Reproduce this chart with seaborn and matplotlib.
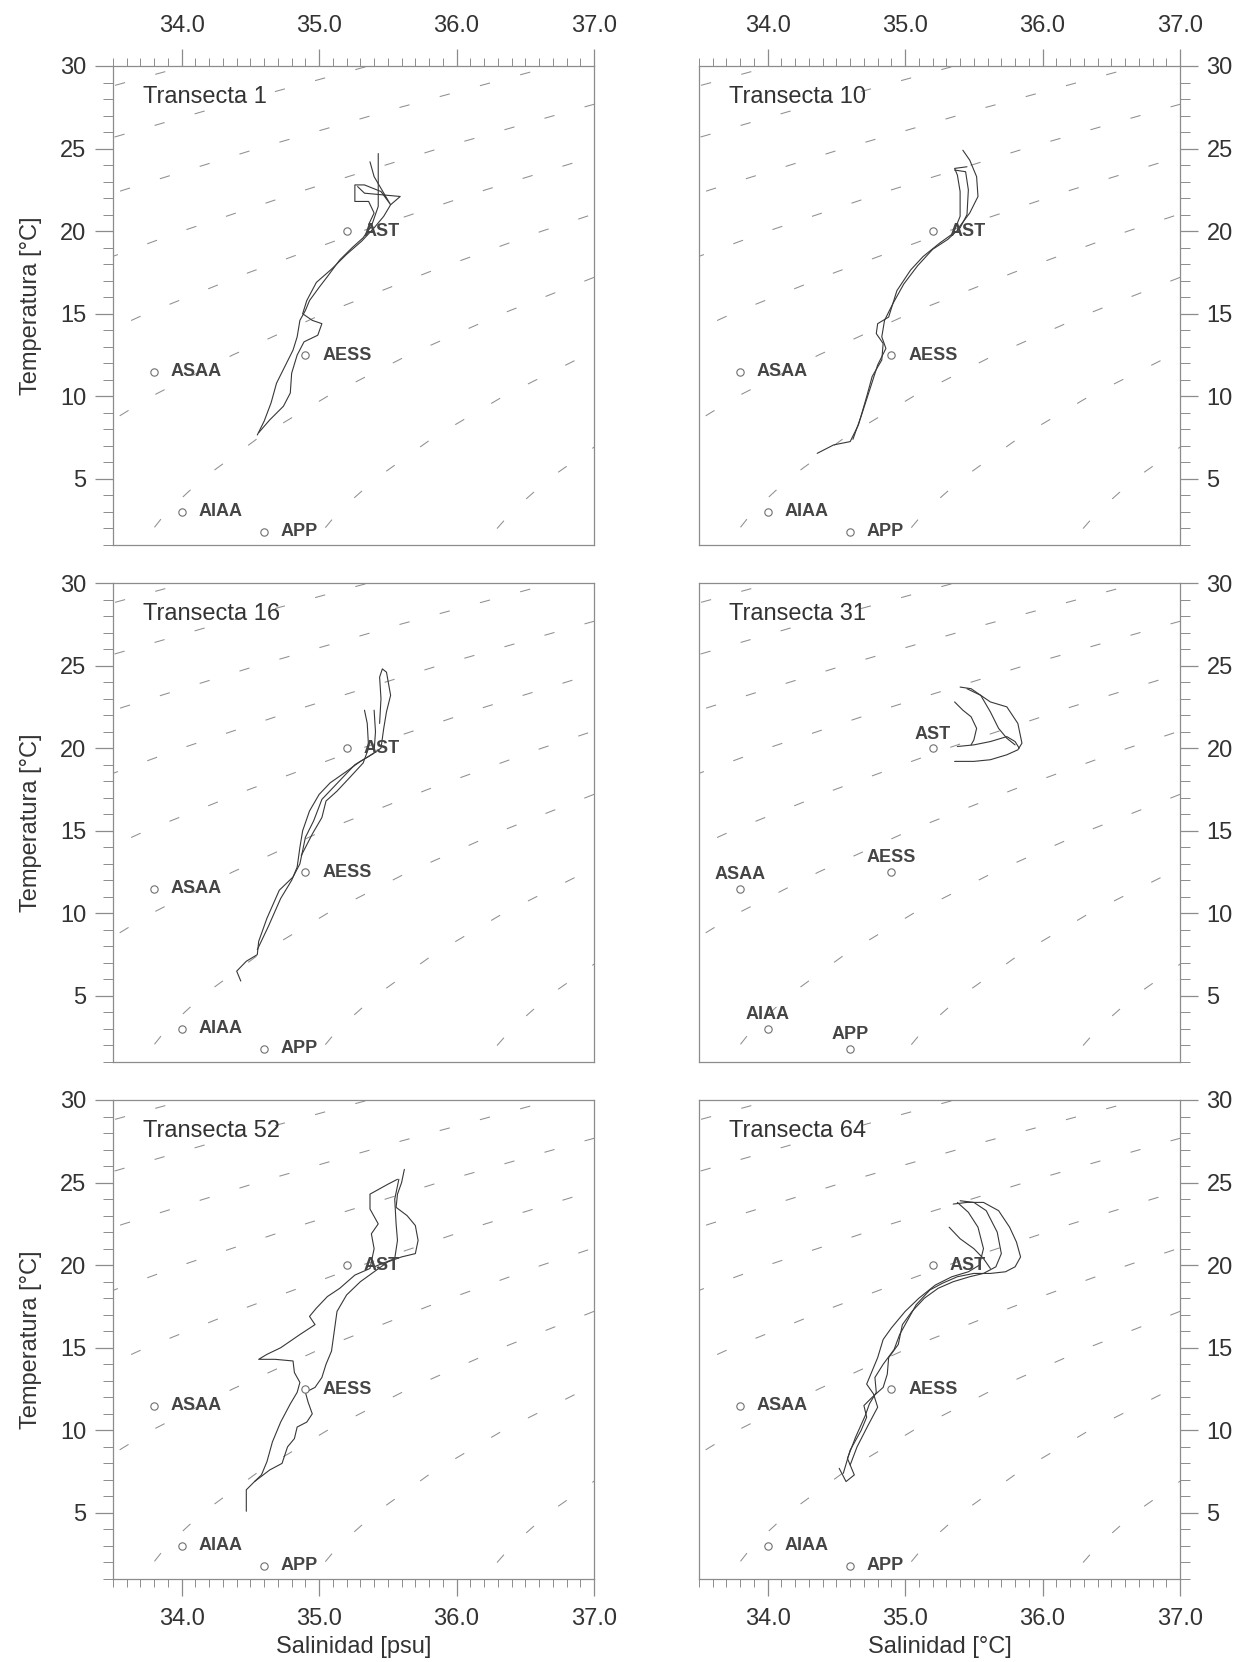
import matplotlib
matplotlib.use("Agg")
import matplotlib.pyplot as plt
import pandas as pd
import seaborn as sns
from matplotlib.ticker import FixedLocator, MultipleLocator, FormatStrFormatter

# ---------------- data ----------------
panel_titles = ["Transecta 1", "Transecta 10", "Transecta 16",
                "Transecta 31", "Transecta 52", "Transecta 64"]
sal_ticks = [34.0, 35.0, 36.0, 37.0]
temp_ticks = [5, 10, 15, 20, 25, 30]
x_labels = ["Salinidad [psu]", "Salinidad [°C]"]
y_label = "Temperatura [°C]"

# water masses
mass_names = ["AST", "AESS", "ASAA", "AIAA", "APP"]
mass_S = [35.2, 34.9, 33.8, 34.0, 34.6]
mass_T = [20.0, 12.5, 11.5, 3.0, 1.8]

# isopycnals (sigma-t), points
sigma_levels = [21, 22, 23, 24, 25, 26, 27, 28, 29]
iso_T = [
    [27.5, 30],
    [25, 27.5, 30],
    [20, 22.5, 25, 27.5, 30],
    [17.5, 20, 22.5, 25, 27.5, 30],
    [12.5, 15, 17.5, 20, 22.5, 25, 27.5],
    [7.5, 10, 12.5, 15, 17.5, 20, 22.5],
    [0, 1, 3, 5, 7.5, 10, 12.5, 15, 17.5, 20],
    [0, 1, 3, 5, 7.5, 10, 12.5, 15],
    [0, 1, 3, 5, 7.5],
]
iso_S = [
    [32.93, 34.03],
    [33.22, 34.26, 35.36],
    [32.69, 33.58, 34.55, 35.59, 36.70],
    [33.18, 34.00, 34.90, 35.87, 36.92, 38.03],
    [33.08, 33.74, 34.49, 35.31, 36.21, 37.19, 38.24],
    [33.29, 33.78, 34.37, 35.03, 35.79, 36.62, 37.53],
    [33.63, 33.70, 33.89, 34.15, 34.56, 35.06, 35.65, 36.33, 37.09, 37.93],
    [34.87, 34.94, 35.14, 35.41, 35.83, 36.34, 36.94, 37.63],
    [36.11, 36.19, 36.40, 36.67, 37.10],
]

# CTD profiles per transect (salinity / temperature)
t1_S = [
    [34.55, 34.60, 34.65, 34.69, 34.75, 34.81, 34.84, 34.86, 34.90, 34.93, 35.00, 35.06, 35.15, 35.24, 35.32, 35.38, 35.43, 35.43, 35.43],
    [34.56, 34.64, 34.74, 34.79, 34.80, 34.84, 34.89, 34.99, 35.02, 34.95, 34.88, 34.91, 34.98, 35.09, 35.20, 35.31, 35.40, 35.47, 35.52, 35.59, 35.46, 35.33, 35.28],
    [35.36, 35.40, 35.36, 35.26, 35.26, 35.33, 35.45, 35.52, 35.40, 35.37],
]
t1_T = [
    [7.66, 8.5, 9.6, 10.8, 11.8, 12.8, 13.6, 14.6, 15.2, 15.8, 16.6, 17.25, 18.26, 19.0, 19.6, 20.3, 21.5, 23.0, 24.7],
    [7.8, 8.57, 9.4, 10.2, 11.4, 12.5, 13.3, 13.7, 14.4, 14.6, 15.0, 15.8, 16.9, 17.7, 18.6, 19.4, 20.2, 20.9, 21.6, 22.1, 22.2, 22.3, 22.7],
    [20.4, 21.1, 21.8, 21.8, 22.8, 22.8, 22.4, 21.6, 23.3, 24.2],
]
t10_S = [
    [34.36, 34.48, 34.60, 34.66, 34.72, 34.76, 34.83, 34.84, 34.79, 34.80, 34.88, 34.94, 35.04, 35.13, 35.25, 35.35, 35.40, 35.40, 35.38, 35.36, 35.45],
    [34.62, 34.68, 34.75, 34.80, 34.86, 34.83, 34.85, 34.91, 34.99, 35.09, 35.20, 35.31, 35.40, 35.45, 35.46, 35.44, 35.36],
    [35.38, 35.47, 35.53, 35.52, 35.47, 35.42],
]
t10_T = [
    [6.55, 7.06, 7.26, 8.27, 9.98, 11.2, 12.2, 13.2, 13.8, 14.4, 14.8, 16.4, 17.65, 18.46, 19.27, 19.87, 20.9, 22.4, 23.4, 23.8, 23.9],
    [7.4, 8.8, 10.6, 11.9, 12.9, 13.6, 14.6, 15.6, 16.8, 17.9, 18.9, 19.5, 20.2, 21.0, 22.5, 23.6, 23.7],
    [20.1, 21.1, 22.1, 23.3, 24.3, 24.9],
]
t16_S = [
    [34.43, 34.40, 34.47, 34.55, 34.56, 34.62, 34.71, 34.81, 34.86, 34.88, 34.90, 34.96, 35.02, 35.10, 35.18, 35.26, 35.36, 35.45, 35.47, 35.49, 35.52, 35.49, 35.46, 35.44, 35.45, 35.44],
    [34.55, 34.63, 34.72, 34.80, 34.84, 34.86, 34.88, 34.93, 35.00, 35.08, 35.20, 35.30, 35.40],
    [34.87, 34.95, 35.02, 35.05, 35.13, 35.22, 35.32, 35.36, 35.35, 35.33],
    [35.40, 35.41, 35.40],
]
t16_T = [
    [5.9, 6.5, 7.1, 7.5, 8.3, 9.7, 11.4, 12.2, 13.0, 13.8, 14.6, 15.6, 16.9, 17.6, 18.3, 19.0, 19.5, 20.0, 21.2, 22.2, 23.2, 24.6, 24.8, 24.3, 23.0, 21.5],
    [7.8, 9.2, 10.9, 12.0, 12.8, 14.0, 15.0, 16.2, 17.2, 17.9, 18.6, 19.2, 19.7],
    [13.5, 14.8, 15.8, 16.8, 17.4, 18.2, 19.1, 20.0, 21.5, 22.3],
    [19.8, 21.0, 22.3],
]
t31_S = [
    [35.36, 35.50, 35.62, 35.74, 35.82, 35.85, 35.82, 35.74, 35.62, 35.55, 35.48, 35.40],
    [35.38, 35.50, 35.62, 35.74, 35.80, 35.83],
    [35.36, 35.42, 35.48, 35.52, 35.50, 35.48],
    [35.45, 35.55, 35.62, 35.68, 35.74, 35.80],
]
t31_T = [
    [19.2, 19.2, 19.3, 19.6, 19.9, 20.3, 21.5, 22.5, 22.8, 23.2, 23.6, 23.7],
    [20.1, 20.2, 20.4, 20.7, 20.4, 20.0],
    [22.8, 22.3, 21.9, 21.2, 20.5, 20.2],
    [23.6, 23.2, 22.2, 21.2, 20.6, 20.2],
]
t52_S = [
    [34.47, 34.47, 34.53, 34.58, 34.62, 34.66, 34.72, 34.79, 34.84, 34.86, 34.82, 34.81, 34.68, 34.56, 34.62, 34.72, 34.86, 34.97, 34.93, 34.98, 35.06, 35.15, 35.26, 35.37, 35.40, 35.38, 35.43, 35.37, 35.37, 35.50, 35.57],
    [34.53, 34.64, 34.73, 34.77, 34.82, 34.84, 34.91, 34.95, 34.92, 34.90, 34.97, 35.02, 35.05, 35.09, 35.11, 35.13, 35.20, 35.30, 35.40, 35.50, 35.60, 35.70, 35.72, 35.70, 35.64, 35.56, 35.57, 35.60, 35.62],
    [35.40, 35.55, 35.57, 35.56, 35.55, 35.58],
]
t52_T = [
    [5.1, 6.4, 6.9, 7.3, 8.1, 9.3, 10.5, 11.6, 12.3, 12.9, 13.5, 14.2, 14.3, 14.3, 14.6, 15.0, 15.8, 16.4, 16.9, 17.4, 18.1, 18.6, 19.4, 19.8, 21.0, 21.9, 22.5, 23.4, 24.3, 24.9, 25.2],
    [6.9, 7.6, 8.0, 9.0, 9.5, 10.2, 10.5, 11.0, 11.7, 12.3, 12.6, 13.2, 14.0, 14.8, 16.0, 17.2, 18.2, 19.0, 19.6, 20.2, 20.5, 20.7, 21.5, 22.4, 23.0, 23.5, 24.3, 25.0, 25.8],
    [19.9, 20.4, 21.5, 22.5, 24.0, 25.2],
]
t64_S = [
    [34.52, 34.57, 34.63, 34.58, 34.64, 34.71, 34.74, 34.79, 34.78, 34.84, 34.92, 34.96, 35.02, 35.08, 35.18, 35.27, 35.38, 35.50, 35.62, 35.73, 35.80, 35.84, 35.81, 35.76, 35.68, 35.57, 35.45, 35.35],
    [34.55, 34.60, 34.68, 34.72, 34.70, 34.76, 34.84, 34.87, 34.88, 34.95, 34.98, 35.05, 35.14, 35.24, 35.35, 35.47, 35.57, 35.66, 35.70, 35.67, 35.59, 35.50, 35.40],
    [34.60, 34.65, 34.73, 34.80, 34.77, 34.72, 34.76, 34.80, 34.84, 34.90, 35.00, 35.10, 35.22, 35.34, 35.46, 35.54, 35.57, 35.53, 35.46, 35.38],
    [35.32, 35.40, 35.50, 35.57, 35.62],
]
t64_T = [
    [7.7, 6.9, 7.3, 8.3, 9.6, 10.9, 11.6, 12.3, 13.2, 14.0, 14.9, 15.8, 16.7, 17.6, 18.5, 18.9, 19.3, 19.5, 19.5, 19.6, 19.9, 20.5, 21.4, 22.3, 23.3, 23.8, 23.8, 23.7],
    [7.4, 8.8, 10.0, 10.8, 11.5, 12.0, 12.6, 13.4, 14.4, 15.2, 16.4, 17.2, 18.0, 18.6, 19.0, 19.3, 19.5, 19.9, 20.7, 22.0, 23.3, 23.8, 23.9],
    [7.9, 9.0, 10.3, 11.4, 12.2, 12.8, 13.6, 14.4, 15.5, 16.2, 17.2, 18.0, 18.8, 19.3, 19.6, 20.0, 21.0, 22.3, 23.2, 23.8],
    [22.3, 21.6, 21.0, 20.4, 19.8],
]

# ---------------- tables ----------------
iso_df = pd.DataFrame(
    [(lev, s, t) for lev, ss, tt in zip(sigma_levels, iso_S, iso_T) for s, t in zip(ss, tt)],
    columns=["sigma", "S", "T"],
)
mass_df = pd.DataFrame({"name": mass_names, "S": mass_S, "T": mass_T})


def profile_table(s_lists, t_lists):
    rows = []
    for k, (ss, tt) in enumerate(zip(s_lists, t_lists)):
        for i, (s, t) in enumerate(zip(ss, tt)):
            rows.append((k, i, s, t))
    return pd.DataFrame(rows, columns=["prof", "order", "S", "T"])


profiles = [profile_table(t1_S, t1_T), profile_table(t10_S, t10_T),
            profile_table(t16_S, t16_T), profile_table(t31_S, t31_T),
            profile_table(t52_S, t52_T), profile_table(t64_S, t64_T)]

# ---------------- figure ----------------
sns.set_theme(style="white")
plt.rcParams["font.family"] = ["Liberation Sans", "DejaVu Sans"]
plt.rcParams["lines.scale_dashes"] = True

W, H = 1236, 1662
fig = plt.figure(figsize=(W / 100, H / 100), dpi=100)
fig.patch.set_facecolor("white")

col_left = [113, 699]
row_top = [66, 583, 1100]
pw, ph = 481, 479

spine_c = "#8c8c8c"
text_c = "#333333"
TICK_FS = 17
LAB_FS = 17

for idx in range(6):
    r, c = divmod(idx, 2)
    ax = fig.add_axes([col_left[c] / W, 1 - (row_top[r] + ph) / H, pw / W, ph / H])
    ax.set_facecolor("white")

    sns.lineplot(data=iso_df, x="S", y="T", units="sigma", estimator=None, sort=False,
                 color="#8f8f8f", lw=0.75, linestyle=(0, (10, 30)), ax=ax,
                 legend=False, zorder=1)
    sns.lineplot(data=profiles[idx], x="S", y="T", units="prof", estimator=None,
                 sort=False, color="#383838", lw=0.8, ax=ax, legend=False, zorder=2)
    sns.scatterplot(data=mass_df, x="S", y="T", marker="o", s=28, facecolor="white",
                    edgecolor="#707070", linewidth=0.8, ax=ax, legend=False, zorder=3)

    for name, s, t in zip(mass_names, mass_S, mass_T):
        if idx == 3:
            ax.annotate(name, (s, t), xytext=(0, 4), textcoords="offset points",
                        ha="center", va="bottom", fontsize=13, fontweight="bold",
                        color="#454545", zorder=4)
        else:
            ax.annotate(name, (s, t), xytext=(12, 0), textcoords="offset points",
                        ha="left", va="center", fontsize=13, fontweight="bold",
                        color="#454545", zorder=4)

    ax.text(0.063, 0.935, panel_titles[idx], transform=ax.transAxes,
            fontsize=LAB_FS, color=text_c, ha="left", va="center")

    ax.set_xlim(33.5, 37.0)
    ax.set_ylim(1, 30)
    ax.xaxis.set_major_locator(FixedLocator(sal_ticks))
    ax.xaxis.set_minor_locator(MultipleLocator(0.1))
    ax.xaxis.set_major_formatter(FormatStrFormatter("%.1f"))
    ax.yaxis.set_major_locator(FixedLocator(temp_ticks))
    ax.yaxis.set_minor_locator(MultipleLocator(1))

    for sp in ax.spines.values():
        sp.set_color(spine_c)
        sp.set_linewidth(0.9)

    # x axis
    if r == 0:
        ax.tick_params(axis="x", which="both", top=True, bottom=False,
                       labeltop=True, labelbottom=False)
    elif r == 1:
        ax.tick_params(axis="x", which="both", top=False, bottom=False,
                       labeltop=False, labelbottom=False)
    else:
        ax.tick_params(axis="x", which="both", top=False, bottom=True,
                       labeltop=False, labelbottom=True)
    if r == 2:
        ax.set_xlabel(x_labels[c], fontsize=LAB_FS, color=text_c, labelpad=4)
    else:
        ax.set_xlabel("")
    ax.tick_params(axis="x", which="major", length=12, width=0.9, pad=9,
                   colors=spine_c, labelcolor=text_c, labelsize=TICK_FS, direction="out")
    ax.tick_params(axis="x", which="minor", length=6, width=0.7, colors=spine_c,
                   direction="out")

    # y axis
    if c == 0:
        ax.tick_params(axis="y", which="both", left=True, right=False,
                       labelleft=True, labelright=False)
        ax.set_ylabel(y_label, fontsize=LAB_FS, color=text_c, labelpad=13)
    else:
        ax.tick_params(axis="y", which="both", left=False, right=True,
                       labelleft=False, labelright=True)
        ax.set_ylabel("")
    ax.tick_params(axis="y", which="major", length=13, width=0.9, pad=6,
                   colors=spine_c, labelcolor=text_c, labelsize=TICK_FS, direction="out")
    ax.tick_params(axis="y", which="minor", length=7, width=0.7, colors=spine_c,
                   direction="out")

fig.savefig("out.png", dpi=100, facecolor="white")
